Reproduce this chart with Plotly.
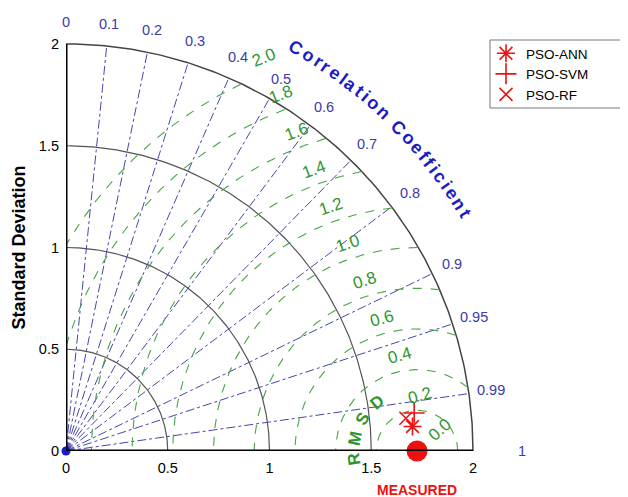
import numpy as np
import plotly.graph_objects as go

# ---------------- data ----------------
models = ["PSO-ANN", "PSO-SVM", "PSO-RF"]
model_std = [1.707, 1.721, 1.678]
model_corr = [0.9975, 0.9941, 0.9954]
model_symbols = ["asterisk-open", "cross-thin-open", "x-thin-open"]
ref_std = 1.725
ref_label = "MEASURED"

std_ticks = [0, 0.5, 1, 1.5, 2]
std_arcs = [0.5, 1.0, 1.5]
std_max = 2.0
corr_ticks = [0.1, 0.2, 0.3, 0.4, 0.5, 0.6, 0.7, 0.8, 0.9, 0.95, 0.99]
corr_labels = [0, 0.1, 0.2, 0.3, 0.4, 0.5, 0.6, 0.7, 0.8, 0.9, 0.95, 0.99, 1]
rmsd_ticks = [0.2, 0.4, 0.6, 0.8, 1.0, 1.2, 1.4, 1.6, 1.8, 2.0]

# ---------------- styles ----------------
BLUE = "#4646ad"
BLUE_LBL = "#3b3ba6"
BLUE_TITLE = "#1c1cc4"
GREEN = "#47a447"
GREEN_LBL = "#2e9630"
RED = "#ee1111"
FONT = "Liberation Sans, Arial, sans-serif"

W, H = 628, 497
ML, MB, MT, MR = 58, 54, 0, 16
PX = 203.5
PW = W - ML - MR
PH = H - MB - MT
XR = PW / PX
YR = PH / PX

fig = go.Figure()

# std arcs
th = np.linspace(0, np.pi / 2, 200)
for r in std_arcs:
    fig.add_trace(go.Scatter(x=r * np.cos(th), y=r * np.sin(th), mode="lines",
                             line=dict(color="#555555", width=1.2), hoverinfo="skip",
                             showlegend=False))
fig.add_trace(go.Scatter(x=std_max * np.cos(th), y=std_max * np.sin(th), mode="lines",
                         line=dict(color="#444444", width=1.5), hoverinfo="skip",
                         showlegend=False))

# correlation lines
for c in corr_ticks:
    a = np.arccos(c)
    fig.add_trace(go.Scatter(x=[0, std_max * np.cos(a)], y=[0, std_max * np.sin(a)],
                             mode="lines", line=dict(color=BLUE, width=1, dash="dashdot"),
                             hoverinfo="skip", showlegend=False))

# RMSD circles (clipped)
ph = np.linspace(0, np.pi, 600)
for r in rmsd_ticks:
    x = ref_std + r * np.cos(ph)
    y = r * np.sin(ph)
    ok = (x >= 0) & (x ** 2 + y ** 2 <= std_max ** 2 + 1e-9)
    x = np.where(ok, x, np.nan)
    y = np.where(ok, y, np.nan)
    fig.add_trace(go.Scatter(x=x, y=y, mode="lines", connectgaps=False,
                             line=dict(color=GREEN, width=1.1, dash="dash"),
                             hoverinfo="skip", showlegend=False))

# axes lines
fig.add_shape(type="line", x0=0, y0=0, x1=std_max, y1=0, line=dict(color="black", width=3))
fig.add_shape(type="line", x0=0, y0=0, x1=0, y1=std_max, line=dict(color="black", width=3))

# legend frame
fig.add_shape(type="rect", xref="paper", yref="paper",
              x0=(482 - ML) / PW, x1=(617 - ML) / PW,
              y0=(PH - 100) / PH, y1=(PH - 32) / PH,
              line=dict(color="#777777", width=1), fillcolor="rgba(0,0,0,0)")

# small blue blob at origin
fig.add_trace(go.Scatter(x=[0], y=[0], mode="markers",
                         marker=dict(color="#1a1ad0", size=9), cliponaxis=False,
                         hoverinfo="skip", showlegend=False))

# reference point
fig.add_trace(go.Scatter(x=[ref_std], y=[0], mode="markers",
                         marker=dict(color=RED, size=21), cliponaxis=False,
                         showlegend=False))

# model points
for name, s, c, sym in zip(models, model_std, model_corr, model_symbols):
    a = np.arccos(c)
    fig.add_trace(go.Scatter(x=[s * np.cos(a)], y=[s * np.sin(a)], mode="markers",
                             name=name,
                             marker=dict(symbol=sym, size=15 if sym != "x-thin-open" else 13,
                                         color=RED, line=dict(color=RED, width=1.6))))

ann = []


def add_text(x, y, text, size, color, angle=0, bold=False):
    ys = 0
    if y < 0:
        ys = y * PX
        y = 0
    ann.append(dict(x=x, y=y, yshift=ys, text=("<b>%s</b>" % text) if bold else text,
                    showarrow=False, textangle=angle, xanchor="center", yanchor="middle",
                    font=dict(size=size, color=color, family=FONT)))


# correlation labels
for c in corr_labels:
    a = np.arccos(c)
    rr = 2.11 if c < 1 else 2.24
    add_text(rr * np.cos(a), rr * np.sin(a), str(c), 14.5, BLUE_LBL)

# "Correlation Coefficient" along arc
title = "Correlation Coefficient"
wtab = {"C": 722, "o": 611, "r": 389, "e": 556, "l": 278, "a": 556, "t": 333, "i": 278,
        "n": 611, " ": 278, "f": 333, "c": 556}
fs = 18
ws = [wtab[ch] * fs / 1000 for ch in title]
Rt = 2.28
a0, a1 = np.radians(60.3), np.radians(30.8)
base = sum((ws[i] + ws[i + 1]) / 2 for i in range(len(ws) - 1))
span_px = (a0 - a1) * Rt * PX
track = (span_px - base) / (len(ws) - 1)
pos = 0.0
for i, ch in enumerate(title):
    if i > 0:
        pos += (ws[i - 1] + ws[i]) / 2 + track
    ang = a0 - pos / PX / Rt
    if ch != " ":
        add_text(Rt * np.cos(ang), Rt * np.sin(ang), ch, fs, BLUE_TITLE,
                 angle=90 - np.degrees(ang), bold=True)

# RMSD labels
for r in rmsd_ticks:
    phi = 114 - 5.5 / r
    d = r + 0.075
    ta = -max(phi - 90, 16)
    add_text(ref_std + d * np.cos(np.radians(phi)), d * np.sin(np.radians(phi)),
             "%.1f" % r, 17, GREEN_LBL, angle=ta)
add_text(ref_std + 0.155 * np.cos(np.radians(43)), 0.155 * np.sin(np.radians(43)),
         "0.0", 17, GREEN_LBL, angle=-42)

# "RMSD" along a circle around reference
for i, ch in enumerate("RMSD"):
    phi = np.radians(188 - 19.5 * i)
    add_text(ref_std + 0.31 * np.cos(phi), 0.31 * np.sin(phi), ch, 17, GREEN_LBL,
             angle=90 - np.degrees(phi), bold=True)

# MEASURED label
add_text(ref_std, -39 / PX, ref_label, 14, RED, bold=True)

# y title
ann.append(dict(x=(10 - ML) / PW, xref="paper", y=1.0, yref="y", xanchor="center",
                yanchor="middle", text="<b>Standard Deviation</b>", textangle=-90,
                showarrow=False, font=dict(size=18, color="black", family=FONT)))

fig.update_layout(
    width=W, height=H, margin=dict(l=ML, r=MR, t=MT, b=MB, autoexpand=False),
    plot_bgcolor="white", paper_bgcolor="white",
    font=dict(family=FONT, size=14, color="black"),
    xaxis=dict(range=[0, XR], showgrid=False, zeroline=False, showline=False,
               tickvals=std_ticks, ticktext=[str(v) for v in std_ticks], ticks="",
               ticklabelstandoff=6, tickfont=dict(size=14.5, color="black")),
    yaxis=dict(range=[0, YR], showgrid=False, zeroline=False, showline=False,
               tickvals=std_ticks, ticktext=[str(v) for v in std_ticks], ticks="",
               ticklabelstandoff=6, tickfont=dict(size=14.5, color="black")),
    legend=dict(x=(478 - ML) / PW, y=(PH - 30) / PH,
                xanchor="left", yanchor="top", borderwidth=0,
                bgcolor="rgba(0,0,0,0)", font=dict(size=13.5, color="black", family=FONT),
                tracegroupgap=0, itemwidth=30),
    annotations=ann,
)

fig.write_html("out.html")
